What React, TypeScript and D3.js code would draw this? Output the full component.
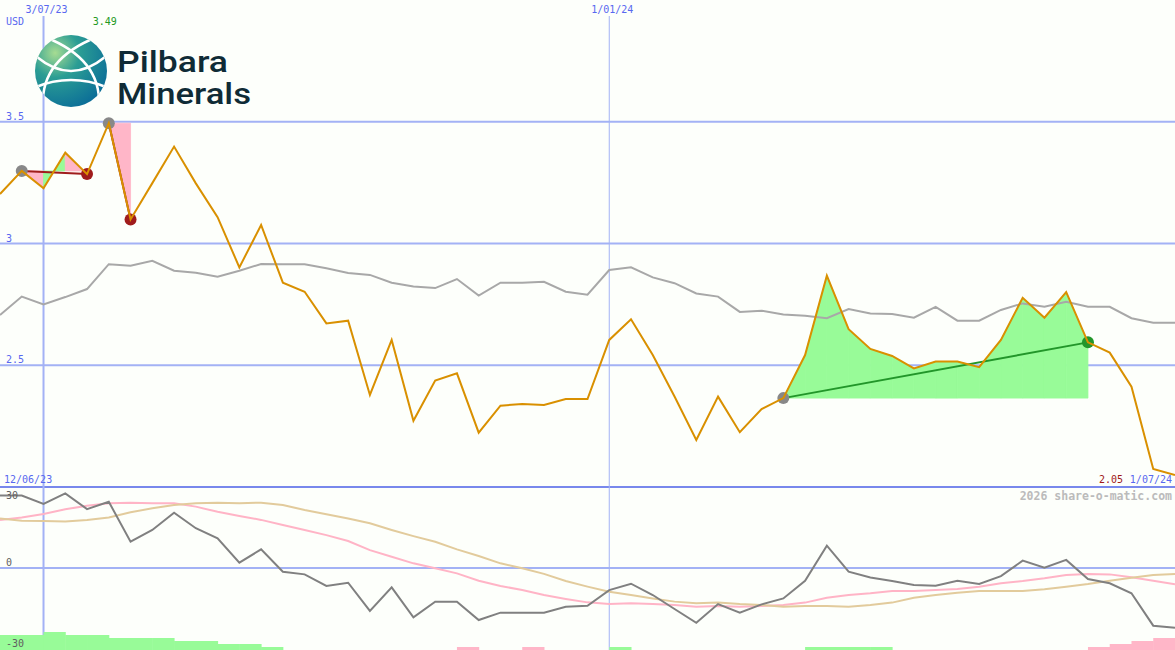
import React, { useEffect, useRef } from 'react';
import * as d3 from 'd3';

const W = 1175;
const H = 650;

// weekly closes, Monday 19/06/23 .. Monday 1/07/24
const firstWeek = new Date(2023, 5, 19);
const lastWeek = new Date(2024, 6, 1);
const weeks = d3.timeMonday.range(firstWeek, d3.timeDay.offset(lastWeek, 1));

const closes = [
  3.203, 3.298, 3.227, 3.373, 3.285, 3.494, 3.099, 3.248, 3.398, 3.247,
  3.108, 2.902, 3.076, 2.839, 2.802, 2.672, 2.683, 2.378, 2.604, 2.272,
  2.437, 2.467, 2.223, 2.334, 2.341, 2.337, 2.361, 2.361, 2.604, 2.689,
  2.542, 2.372, 2.193, 2.371, 2.225, 2.320, 2.365, 2.542, 2.868, 2.648,
  2.567, 2.538, 2.487, 2.515, 2.515, 2.492, 2.604, 2.777, 2.695, 2.800,
  2.594, 2.552, 2.412, 2.074, 2.049,
];

const avgLine = [
  2.706, 2.782, 2.750, 2.780, 2.813, 2.915, 2.909, 2.929, 2.888, 2.880,
  2.864, 2.888, 2.916, 2.915, 2.915, 2.898, 2.879, 2.871, 2.839, 2.823,
  2.817, 2.854, 2.786, 2.839, 2.839, 2.843, 2.802, 2.790, 2.891, 2.902,
  2.861, 2.837, 2.795, 2.782, 2.719, 2.724, 2.708, 2.703, 2.693, 2.731,
  2.713, 2.710, 2.695, 2.740, 2.683, 2.683, 2.727, 2.754, 2.740, 2.761,
  2.740, 2.740, 2.693, 2.675, 2.675,
];

const momentum = [
  29.5, 29.5, 26.1, 30.4, 24.0, 27.0, 10.7, 15.5, 22.5, 16.2,
  12.1, 2.2, 7.6, -1.5, -2.6, -7.3, -6.0, -17.5, -7.9, -20.1,
  -13.7, -13.7, -21.2, -18.2, -18.2, -18.2, -15.8, -15.4, -9.0, -6.4,
  -11.0, -16.7, -22.3, -14.7, -18.2, -14.8, -12.4, -5.2, 9.1, -1.5,
  -3.9, -5.3, -6.9, -7.2, -5.2, -6.5, -3.3, 3.0, 0.1, 3.3,
  -4.5, -6.2, -10.3, -23.5, -24.3,
];

const momFast = [
  19.6, 20.6, 22.0, 23.9, 25.4, 26.4, 26.6, 26.4, 26.4, 25.0,
  22.9, 21.2, 19.6, 17.5, 15.5, 13.4, 11.0, 7.3, 4.6, 1.9,
  -0.1, -2.2, -5.2, -7.3, -9.0, -11.0, -12.6, -14.0, -14.7, -14.4,
  -14.7, -15.1, -15.8, -15.5, -15.8, -15.5, -15.1, -14.1, -12.1, -11.0,
  -10.3, -9.4, -9.4, -9.0, -8.6, -7.6, -6.2, -5.3, -4.2, -2.9,
  -2.4, -2.6, -3.8, -5.2, -6.6,
];

const momSlow = [
  20.2, 19.3, 19.1, 18.9, 19.6, 20.6, 22.7, 24.3, 25.7, 26.4,
  26.6, 26.4, 26.6, 25.7, 23.6, 21.9, 20.2, 18.2, 15.5, 13.0,
  10.7, 7.6, 4.9, 1.9, -0.1, -2.4, -5.3, -7.6, -9.7, -11.0,
  -12.4, -13.7, -14.4, -14.1, -14.7, -15.1, -15.8, -15.5, -15.5, -15.8,
  -15.1, -14.1, -12.1, -11.0, -10.1, -9.4, -9.4, -9.4, -8.7, -7.6,
  -6.5, -5.2, -4.0, -2.9, -2.4,
];

// one bar per week interval (positive green, negative pink)
const histo = [
  5, 5, 6, 5, 5, 4, 4, 4, 3, 3, 2, 2, 1,
  0, 0, 0, 0, 0, 0, 0, 0, -1, 0, 0, -1, 0, 0, 0, 1,
  0, 0, 0, 0, 0, 0, 0, 0, 1, 1, 1, 1,
  0, 0, 0, 0, 0, 0, 0, 0, 0, -1, -2, -3, -4,
];

// [start week, end week]
const trades: [number, number][] = [[1, 4], [5, 6], [36, 50]];

const priceTicks = [3.5, 3, 2.5];
const momTicks = [30, 0, -30];
const dateTicks = [new Date(2023, 6, 3), new Date(2024, 0, 1)];
const dateLabels = ['3/07/23', '1/01/24'];
const startLabel = '12/06/23';
const endLabel = '1/07/24';
const currency = 'USD';

const BLUE_TXT = '#5868f0';
const GRID = '#a3b2f5';
const GREEN_FILL = '#98fb98';
const PINK_FILL = '#ffb6c8';
const MONO = '"DejaVu Sans Mono", monospace';

export default function App() {
  const svgRef = useRef<SVGSVGElement | null>(null);

  useEffect(() => {
    if (!svgRef.current) return;
    const svg = d3.select(svgRef.current);
    svg.selectAll('*').remove();

    const x = d3.scaleTime().domain([weeks[0], weeks[weeks.length - 1]]).range([0, W]);
    const y = d3.scaleLinear().domain([2, 4]).range([487, 0]);
    const yM = d3.scaleLinear().domain([-33, 33]).range([649, 487]);
    const barH = d3.scaleLinear().domain([0, 5]).range([0, 15]);
    const xi = (i: number) => x(weeks[i]);

    svg.append('rect').attr('width', W).attr('height', H).attr('fill', '#fdfffb');

    // grid
    svg.append('g').selectAll('line').data(priceTicks).join('line')
      .attr('x1', 0).attr('x2', W)
      .attr('y1', d => y(d)).attr('y2', d => y(d))
      .attr('stroke', GRID).attr('stroke-width', 2);
    svg.append('line').attr('x1', 0).attr('x2', W).attr('y1', y(2)).attr('y2', y(2))
      .attr('stroke', '#7888ec').attr('stroke-width', 2);
    svg.append('line').attr('x1', 0).attr('x2', W).attr('y1', yM(0)).attr('y2', yM(0))
      .attr('stroke', GRID).attr('stroke-width', 2);
    svg.append('g').selectAll('line').data(dateTicks).join('line')
      .attr('x1', d => x(d)).attr('x2', d => x(d))
      .attr('y1', 16).attr('y2', H)
      .attr('stroke', GRID).attr('stroke-width', (_, i) => (i === 0 ? 2 : 1));

    // histogram
    svg.append('g').selectAll('rect').data(histo).join('rect')
      .attr('x', (_, i) => xi(i))
      .attr('width', (_, i) => xi(i + 1) - xi(i) + 0.5)
      .attr('y', d => H - barH(Math.abs(d)))
      .attr('height', d => barH(Math.abs(d)))
      .attr('fill', d => (d >= 0 ? GREEN_FILL : PINK_FILL));

    // indicator lines
    const mLine = d3.line<number>().x((_, i) => xi(i)).y(d => yM(d));
    svg.append('path').datum(momFast).attr('d', mLine)
      .attr('fill', 'none').attr('stroke', '#ffb4c6').attr('stroke-width', 2);
    svg.append('path').datum(momSlow).attr('d', mLine)
      .attr('fill', 'none').attr('stroke', '#e2cb9c').attr('stroke-width', 2);
    svg.append('path').datum(momentum).attr('d', mLine)
      .attr('fill', 'none').attr('stroke', '#808080').attr('stroke-width', 2);

    // trade fills, one piece per week, coloured by gain so far
    const fills = svg.append('g');
    trades.forEach(([s, e]) => {
      const level = closes[s];
      const area = d3.area<number>()
        .x(j => xi(j))
        .y0(y(level))
        .y1(j => y(closes[j]));
      for (let i = s; i < e; i++) {
        const col = closes[i + 1] >= level ? GREEN_FILL : PINK_FILL;
        fills.append('path').datum([i, i + 1]).attr('d', area)
          .attr('fill', col).attr('stroke', col).attr('stroke-width', 0.8);
      }
    });

    // average line
    const pLine = d3.line<number>().x((_, i) => xi(i)).y(d => y(d));
    svg.append('path').datum(avgLine).attr('d', pLine)
      .attr('fill', 'none').attr('stroke', '#a8a8a8').attr('stroke-width', 2);

    // trade lines and markers
    trades.forEach(([s, e]) => {
      const win = closes[e] >= closes[s];
      const col = win ? '#22962a' : '#a01c1c';
      svg.append('line')
        .attr('x1', xi(s)).attr('y1', y(closes[s]))
        .attr('x2', xi(e)).attr('y2', y(closes[e]))
        .attr('stroke', col).attr('stroke-width', 2);
      svg.append('circle').attr('cx', xi(s)).attr('cy', y(closes[s])).attr('r', 6).attr('fill', '#888888');
      svg.append('circle').attr('cx', xi(e)).attr('cy', y(closes[e])).attr('r', 6).attr('fill', col);
    });

    // price
    svg.append('path').datum(closes).attr('d', pLine)
      .attr('fill', 'none').attr('stroke', '#d99000').attr('stroke-width', 2);

    // texts
    const txt = (tx: number, ty: number, s: string, fill: string, anchor = 'start', size = 10, weight = 'normal') =>
      svg.append('text').attr('x', tx).attr('y', ty).text(s)
        .attr('font-family', MONO).attr('font-size', size).attr('font-weight', weight)
        .attr('fill', fill).attr('text-anchor', anchor);

    dateTicks.forEach((d, i) => txt(x(d) + 3, 13, dateLabels[i], BLUE_TXT, 'middle'));
    txt(6, 25, currency, BLUE_TXT);
    priceTicks.forEach(v => txt(6, y(v) - 2, String(v), BLUE_TXT));
    momTicks.forEach(v => txt(6, yM(v) + (v === 0 ? -2 : 5), String(v), '#606060'));

    const hiIdx = d3.maxIndex(closes);
    txt(xi(hiIdx) - 4, 25, closes[hiIdx].toFixed(2), '#229922', 'middle');
    txt(4, 483, startLabel, BLUE_TXT);
    txt(1172, 483, endLabel, BLUE_TXT, 'end');
    txt(1099, 483, closes[closes.length - 1].toFixed(2), '#a01818');
    txt(1172, 500, '2026 share-o-matic.com', '#bbbbbb', 'end', 11.5, 'bold');

    // logo
    const defs = svg.append('defs');
    const grad = defs.append('radialGradient').attr('id', 'globeGrad')
      .attr('cx', '28%').attr('cy', '25%').attr('r', '85%');
    grad.append('stop').attr('offset', '0%').attr('stop-color', '#a6dc92');
    grad.append('stop').attr('offset', '40%').attr('stop-color', '#2b9d94');
    grad.append('stop').attr('offset', '100%').attr('stop-color', '#0a6c98');
    defs.append('clipPath').attr('id', 'globeClip')
      .append('circle').attr('cx', 0).attr('cy', 0).attr('r', 36);

    const logo = svg.append('g').attr('transform', 'translate(71,71)');
    logo.append('circle').attr('r', 36).attr('fill', 'url(#globeGrad)');
    const arcs = logo.append('g').attr('clip-path', 'url(#globeClip)')
      .attr('fill', 'none').attr('stroke', '#ffffff').attr('stroke-width', 2.5);
    [
      'M -26 -34 Q 30 -12 28 34',
      'M 26 -34 Q -30 -12 -28 34',
      'M -40 18 Q 0 0 40 18',
      'M -34 -14 Q 0 14 34 -14',
    ].forEach(dStr => arcs.append('path').attr('d', dStr));

    const logoFont = { family: 'Roboto, sans-serif', size: 30 };
    svg.append('text').attr('x', 117).attr('y', 72).text('Pilbara')
      .attr('font-family', logoFont.family).attr('font-weight', 500).attr('font-size', logoFont.size)
      .attr('fill', '#0f2b36').attr('textLength', 111).attr('lengthAdjust', 'spacingAndGlyphs');
    svg.append('text').attr('x', 117).attr('y', 104).text('Minerals')
      .attr('font-family', logoFont.family).attr('font-weight', 500).attr('font-size', logoFont.size)
      .attr('fill', '#0f2b36').attr('textLength', 134).attr('lengthAdjust', 'spacingAndGlyphs');
  }, []);

  return (
    <svg ref={svgRef} width={W} height={H}
      style={{ position: 'absolute', left: 0, top: 0, display: 'block' }} />
  );
}
